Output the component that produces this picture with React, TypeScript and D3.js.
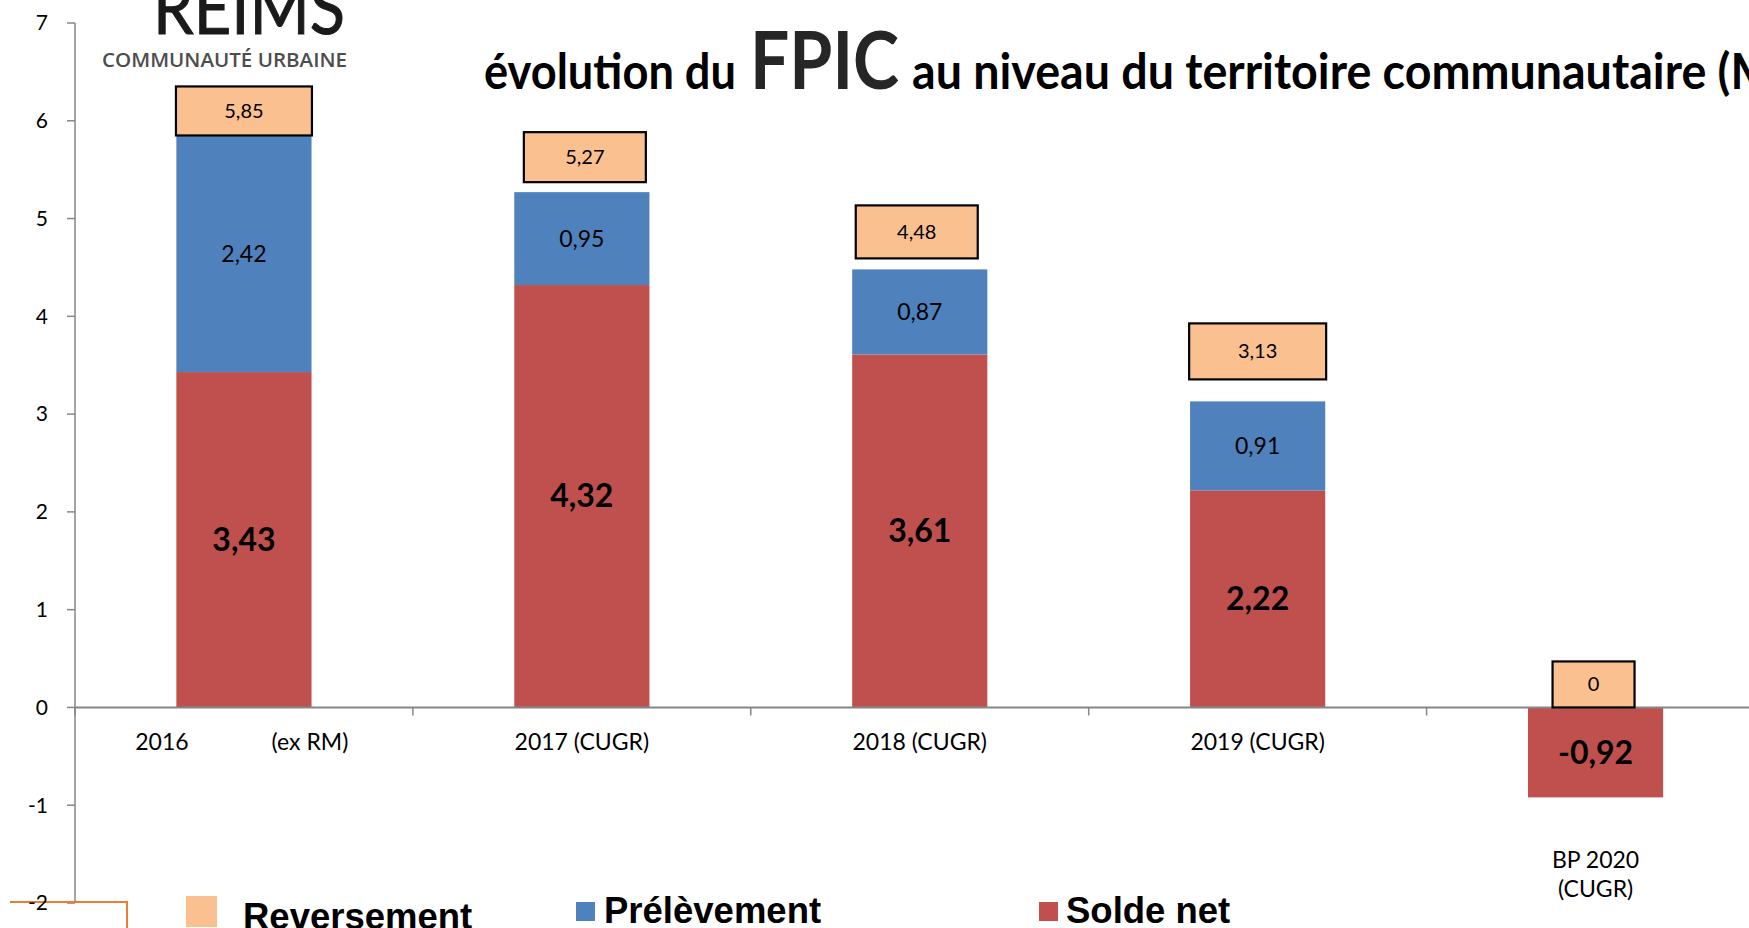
import React, { useLayoutEffect, useRef, useState } from "react";
import * as d3 from "d3";

// ---------- data ----------
const categories = ["2016 (ex RM)", "2017 (CUGR)", "2018 (CUGR)", "2019 (CUGR)", "BP 2020 (CUGR)"];
const soldeNet = [3.43, 4.32, 3.61, 2.22, -0.92];
const prelevement = [2.42, 0.95, 0.87, 0.91, 0];
const reversement = [5.85, 5.27, 4.48, 3.13, 0];
const yTickValues = [-2, -1, 0, 1, 2, 3, 4, 5, 6, 7];
const legendItems = ["Reversement", "Prélèvement", "Solde net"];
const titleParts = ["évolution du", "FPIC", "au niveau du territoire communautaire (M€)"];

// ---------- layout / style ----------
const W = 1749;
const H = 928;
const COLORS = { solde: "#C0504D", prel: "#4F81BD", rev: "#FAC090" };
const AXIS = "#868686";
// label boxes of "Reversement" (width, height, gap above stack)
const revBox = [
  { w: 136, h: 49, gap: 0 },
  { w: 122, h: 50, gap: 10 },
  { w: 122, h: 53, gap: 11 },
  { w: 137, h: 56, gap: 22 },
  { w: 82, h: 46, gap: 0 },
];
const revBoxDx = [0, 3, -3, 0, -2];

const locale = d3.formatLocale({ decimal: ",", thousands: " ", grouping: [3], currency: ["", "€"], minus: "-" });
const fmt = locale.format(".2~f");

export default function App() {
  const step = 337.9;
  const x = d3
    .scaleBand<number>()
    .domain(d3.range(categories.length))
    .range([75, 75 + step * categories.length])
    .paddingInner(0.6)
    .paddingOuter(0.3);
  const y = d3.scaleLinear().domain([-2, 7]).range([903, 23]);
  const bw = x.bandwidth();
  const font = "Lato, 'Open Sans', sans-serif";

  const measureRef = useRef<SVGTextElement>(null);
  const [titleScale, setTitleScale] = useState(0.92);
  useLayoutEffect(() => {
    if (measureRef.current) {
      const len = measureRef.current.getComputedTextLength();
      if (len > 0) setTitleScale(806 / len);
    }
  }, []);

  return (
    <svg width={W} height={H} style={{ position: "absolute", left: 0, top: 0, background: "#fff" }}>
      <rect x={0} y={0} width={W} height={H} fill="#fff" />
      {/* hidden measurer */}
      <text ref={measureRef} x={0} y={-200} fontFamily={font} fontSize={49} fontWeight={700} style={{ whiteSpace: "pre" }} visibility="hidden">
        {"au niveau du territoire communautaire "}
      </text>
      {/* logo */}
      <text x={153} y={34} fontFamily={font} fontSize={74} fontWeight={400} fill="#1a1a1a" stroke="#1a1a1a" strokeWidth={1} textLength={192} lengthAdjust="spacingAndGlyphs">
        REIMS
      </text>
      <text x={102} y={67} fontFamily="'Open Sans', sans-serif" fontSize={19} fontWeight={600} fill="#4d4d4d" textLength={245} lengthAdjust="spacingAndGlyphs">
        COMMUNAUTÉ URBAINE
      </text>

      {/* title */}
      <text x={484} y={89} fontFamily={font} fontSize={49} fontWeight={700} fill="#000" textLength={252} lengthAdjust="spacingAndGlyphs">
        {titleParts[0]}
      </text>
      <text x={750} y={89} fontFamily={font} fontSize={80} fontWeight={700} fill="#262626" textLength={149} lengthAdjust="spacingAndGlyphs">
        {titleParts[1]}
      </text>
      <g transform={`translate(912,89) scale(${titleScale},1)`}>
        <text x={0} y={0} fontFamily={font} fontSize={49} fontWeight={700} fill="#000">
          {titleParts[2]}
        </text>
      </g>

      {/* bars */}
      {categories.map((c, i) => {
        const s = soldeNet[i];
        const p = prelevement[i];
        const x0 = x(i)!;
        return (
          <g key={"b" + i}>
            <rect x={x0} width={bw} y={y(Math.max(0, s))} height={Math.abs(y(s) - y(0))} fill={COLORS.solde} />
            {p > 0 && <rect x={x0} width={bw} y={y(s + p)} height={y(s) - y(s + p)} fill={COLORS.prel} />}
          </g>
        );
      })}

      {/* axes */}
      <line x1={75} x2={75} y1={y(7)} y2={y(-2)} stroke={AXIS} strokeWidth={1.5} />
      {yTickValues.map((t) => (
        <line key={"t" + t} x1={67} x2={75} y1={y(t)} y2={y(t)} stroke={AXIS} strokeWidth={1.5} />
      ))}
      <line x1={75} x2={W} y1={y(0)} y2={y(0)} stroke={AXIS} strokeWidth={2} />
      {d3.range(categories.length + 1).map((i) => (
        <line key={"ct" + i} x1={75 + i * step} x2={75 + i * step} y1={y(0)} y2={y(0) + 8} stroke={AXIS} strokeWidth={1.5} />
      ))}

      {/* orange frame piece */}
      <polyline points={`10,902 127,902 127,${H}`} fill="none" stroke="#ED7D31" strokeWidth={2} />

      {/* y tick labels */}
      {yTickValues.map((t) => (
        <text key={"yl" + t} x={48} y={y(t)} dy="0.35em" textAnchor="end" fontFamily={font} fontSize={21} fill="#000">
          {t}
        </text>
      ))}

      {/* category labels */}
      {categories.map((c, i) => {
        const cx = x(i)! + bw / 2;
        if (i === 0) {
          const parts = c.split(" ");
          return (
            <g key={"cl" + i} fontFamily={font} fontSize={23} fill="#000" textAnchor="middle">
              <text x={cx - 82} y={750}>{parts[0]}</text>
              <text x={cx + 66} y={750}>{parts.slice(1).join(" ")}</text>
            </g>
          );
        }
        if (soldeNet[i] < 0) {
          const parts = c.split(" ");
          return (
            <g key={"cl" + i} fontFamily={font} fontSize={23} fill="#000" textAnchor="middle">
              <text x={cx} y={868}>{parts.slice(0, 2).join(" ")}</text>
              <text x={cx} y={897}>{parts.slice(2).join(" ")}</text>
            </g>
          );
        }
        return (
          <text key={"cl" + i} x={cx} y={750} fontFamily={font} fontSize={23} fill="#000" textAnchor="middle">
            {c}
          </text>
        );
      })}

      {/* value labels */}
      {categories.map((c, i) => {
        const s = soldeNet[i];
        const p = prelevement[i];
        const r = reversement[i];
        const cx = x(i)! + bw / 2;
        const b = revBox[i];
        const top = Math.max(s + p, 0);
        const boxBottom = y(top) - b.gap;
        const bcx = cx + revBoxDx[i];
        return (
          <g key={"v" + i} fontFamily={font}>
            <text x={cx} y={y(s / 2)} dy="0.35em" textAnchor="middle" fontSize={32} fontWeight={700} fill="#000">
              {fmt(s)}
            </text>
            {p > 0 && (
              <text x={cx} y={y(s + p / 2)} dy="0.35em" textAnchor="middle" fontSize={23} fill="#000">
                {fmt(p)}
              </text>
            )}
            <rect x={bcx - b.w / 2} y={boxBottom - b.h} width={b.w} height={b.h} fill={COLORS.rev} stroke="#000" strokeWidth={2.2} />
            <text x={bcx} y={boxBottom - b.h / 2} dy="0.35em" textAnchor="middle" fontSize={20} fill="#000">
              {fmt(r)}
            </text>
          </g>
        );
      })}

      {/* legend */}
      <g fontFamily="'Liberation Sans', Arial, sans-serif" fontWeight={700} fontSize={36.5} fill="#000">
        <rect x={186} y={896} width={31} height={31} fill={COLORS.rev} />
        <text x={243} y={929}>{legendItems[0]}</text>
        <rect x={576} y={902} width={19} height={19} fill={COLORS.prel} />
        <text x={604} y={923}>{legendItems[1]}</text>
        <rect x={1039} y={902} width={19} height={19} fill={COLORS.solde} />
        <text x={1066} y={923}>{legendItems[2]}</text>
      </g>
    </svg>
  );
}
